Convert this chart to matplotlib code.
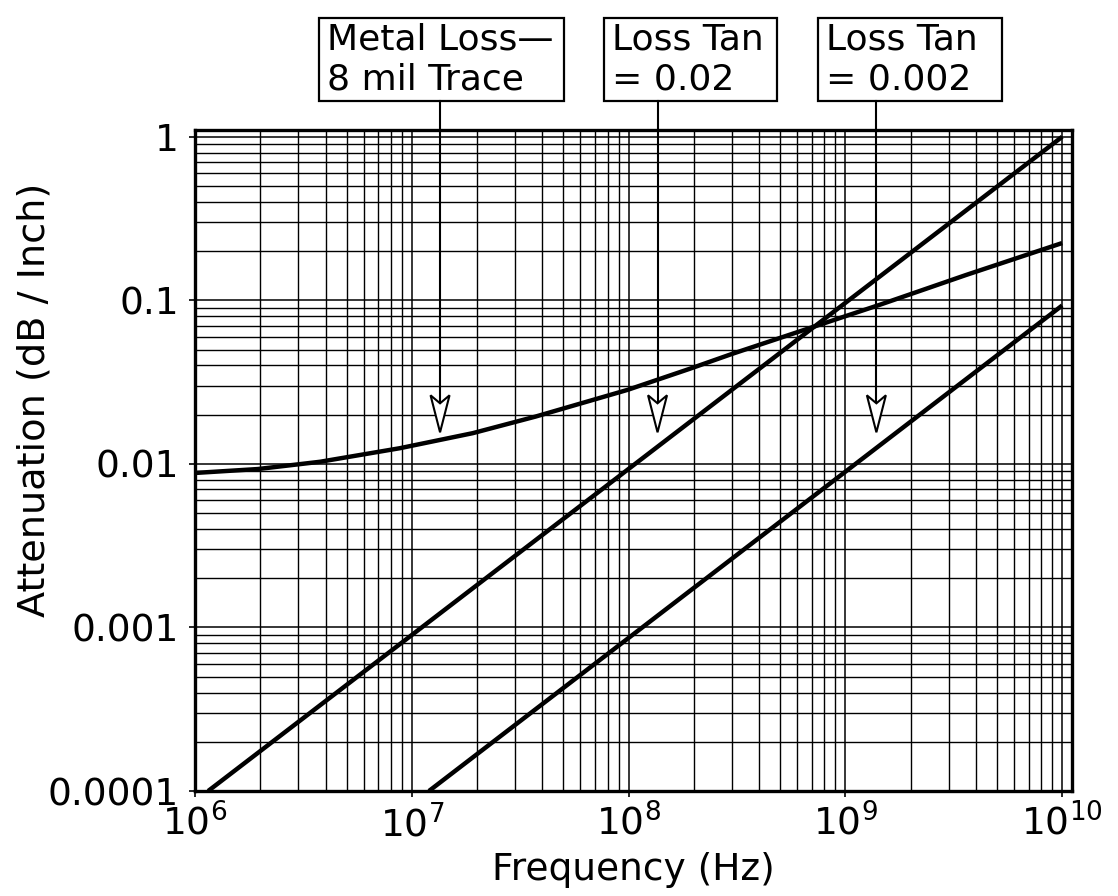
import matplotlib
matplotlib.use("Agg")
import matplotlib.pyplot as plt
from matplotlib.patches import Polygon, Rectangle
from matplotlib.ticker import LogLocator, NullFormatter

# values
metal_freq = [1e6, 1.95e6, 3.77e6, 8.81e6, 1.91e7, 3.72e7, 9.9e7, 1.91e8, 3.01e8, 6.14e8, 1.44e9, 3.61e9, 1e10]
metal_loss = [0.0088, 0.0093, 0.0103, 0.01247, 0.01541, 0.01946, 0.02836, 0.0381, 0.0471, 0.0645, 0.0939, 0.143, 0.224]

tan02_freq = [1.15e6, 1e10]
tan02_loss = [1e-4, 1.0]

tan002_freq = [1.2e7, 1e10]
tan002_loss = [1e-4, 0.093]

x_ticks = [1e6, 1e7, 1e8, 1e9, 1e10]
x_labels = ["$10^{6}$", "$10^{7}$", "$10^{8}$", "$10^{9}$", "$10^{10}$"]
y_ticks = [1e-4, 1e-3, 1e-2, 1e-1, 1]
y_labels = ["0.0001", "0.001", "0.01", "0.1", "1"]

box_texts = ["Metal Loss\u2014\n8 mil Trace", "Loss Tan\n= 0.02", "Loss Tan\n= 0.002"]
arrow_freq = [1.35e7, 1.36e8, 1.39e9]
arrow_tip = 0.0156

plt.rcParams["font.family"] = ["DejaVu Sans"]

W, H = 1118, 896
fig = plt.figure(figsize=(W / 100, H / 100), dpi=100)
ax = fig.add_axes([195 / W, 1 - 791 / H, (1072 - 195) / W, (791 - 130) / H])

ax.set_xscale("log")
ax.set_yscale("log")
ax.set_xlim(1e6, 1.11e10)
ax.set_ylim(1e-4, 1.10)

ax.xaxis.set_minor_locator(LogLocator(base=10, subs=range(2, 10), numticks=20))
ax.yaxis.set_minor_locator(LogLocator(base=10, subs=range(2, 10), numticks=20))
ax.xaxis.set_minor_formatter(NullFormatter())
ax.yaxis.set_minor_formatter(NullFormatter())
ax.set_xticks(x_ticks, labels=x_labels)
ax.set_yticks(y_ticks, labels=y_labels)

ax.grid(which="major", color="black", lw=1.1)
ax.grid(which="minor", color="black", lw=1.0)
ax.set_axisbelow(True)
ax.tick_params(which="major", direction="out", length=4.5, width=1.2, labelsize=27)
ax.tick_params(axis="x", which="major", pad=5)
ax.tick_params(axis="y", which="major", pad=7)
ax.tick_params(which="minor", length=0)
for s in ax.spines.values():
    s.set_linewidth(2.4)

ax.plot(metal_freq, metal_loss, color="black", lw=3.2, solid_capstyle="butt", solid_joinstyle="round")
ax.plot(tan02_freq, tan02_loss, color="black", lw=3.2, solid_capstyle="butt")
ax.plot(tan002_freq, tan002_loss, color="black", lw=3.2, solid_capstyle="butt")

ax.set_xlabel("Frequency (Hz)", fontsize=27)
ax.xaxis.set_label_coords(0.5, -0.092)
ax.set_ylabel("Attenuation (dB / Inch)", fontsize=27.5)
ax.yaxis.label.set_ha("left")
ax.yaxis.set_label_coords(-0.162, 0.263)

# callout boxes above the plot (pixel positions from the top)
box_left = [319, 604, 818]
box_right = [564, 777, 1002]
box_top, box_bot = 18, 101
for i, txt in enumerate(box_texts):
    fig.patches.append(Rectangle((box_left[i] / W, 1 - box_bot / H),
                                 (box_right[i] - box_left[i]) / W, (box_bot - box_top) / H,
                                 transform=fig.transFigure, fc="white", ec="black", lw=1.6))
    fig.text((box_left[i] + 8) / W, 1 - (box_top + box_bot) / 2 / H, txt,
             ha="left", va="center", fontsize=26, linespacing=1.2)

# arrows: open dart heads pointing at the curves
fig.canvas.draw()
for f in arrow_freq:
    tx, ty = ax.transData.transform((f, arrow_tip))
    head = Polygon([(tx, ty), (tx - 9.5, ty + 37), (tx, ty + 29), (tx + 9.5, ty + 37)],
                   closed=True, fc="white", ec="black", lw=1.5, transform=None, zorder=5)
    fig.patches.append(head)
    fig.lines.append(plt.Line2D([tx, tx], [ty + 29, H - box_bot], color="black",
                                lw=1.5, transform=None, zorder=5))

fig.savefig("out.png", dpi=100)
